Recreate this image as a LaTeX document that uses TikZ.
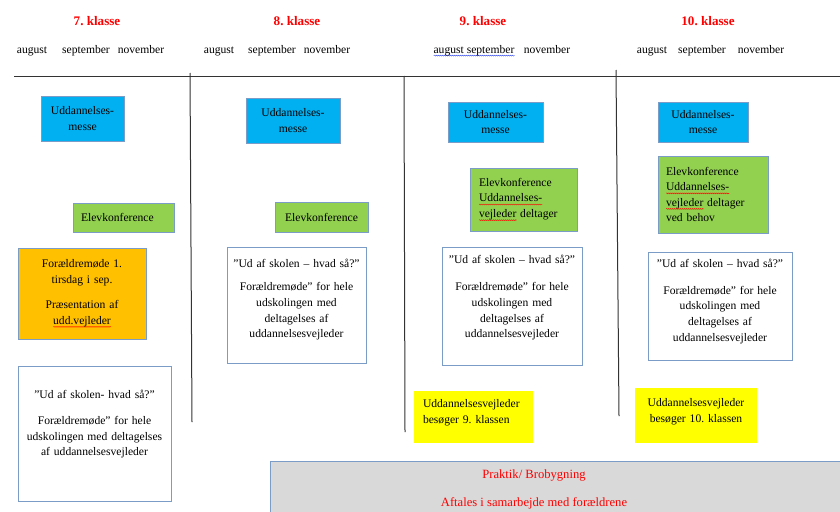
\documentclass[tikz,border=0pt]{standalone}
\usepackage{fontspec}
\setmainfont{Liberation Serif}
\usetikzlibrary{positioning}
\usetikzlibrary{decorations.pathmorphing}

\definecolor{fairblue}{HTML}{00B0F0}
\definecolor{confgreen}{HTML}{92D050}
\definecolor{meetorange}{HTML}{FFC000}
\definecolor{visityellow}{HTML}{FFFF00}
\definecolor{practgray}{HTML}{D9D9D9}
\definecolor{edge}{HTML}{7A9CC6}
\definecolor{spellblue}{HTML}{3B4FE0}

\frenchspacing
\newcommand\brod{\fontsize{11.6}{15.6}\selectfont}
\newcommand\luft[1]{\par\kern#1}
\newsavebox\typobox
\newcommand\typo[2]{\leavevmode\sbox\typobox{#2}\rlap{\tikz[baseline=0pt]\draw[draw=#1,fill=none,line width=0.4pt,
  decorate,decoration={snake,amplitude=0.5pt,segment length=2pt}] (0pt,-2.6pt) -- (\wd\typobox,-2.6pt);}\usebox\typobox}

\begin{document}
\begin{tikzpicture}
[x=1pt,y=-1pt,
  rule/.style={draw=black!80,line width=1pt},
  box/.style={draw=edge,line width=0.6pt,inner sep=0pt,font=\brod},
  fair/.style={box,fill=fairblue,align=center},
  conference/.style={box,fill=confgreen,align=left,inner xsep=8pt},
  meeting/.style={box,fill=meetorange,align=center},
  talk/.style={box,fill=white,align=center,inner xsep=2pt},
  visit/.style={fill=visityellow,inner sep=0pt,font=\brod},
  practice/.style={draw=edge,line width=0.6pt,fill=practgray},
  grade/.style={anchor=base,text=red,font=\fontsize{13.1}{15}\selectfont\bfseries},
  month/.style={anchor=base,font=\brod}]

\useasboundingbox (0,0) rectangle (840,511);

\node[grade] (g7) at (97,25.5) {7. klasse};
\node[grade] (g8) at (297,25.5) {8. klasse};
\node[grade] (g9) at (483,25.5) {9. klasse};
\node[grade] (g10) at (708,25.5) {10. klasse};

\node[month] (aug7) at (32,53) {august};
\node[month] (sep7) at (86,53) {september};
\node[month] (nov7) at (141,53) {november};
\node[month] (aug8) at (219,53) {august};
\node[month] (sep8) at (272,53) {september};
\node[month] (nov8) at (327,53) {november};
\node[month] (augsep9) at (474,53) {\typo{spellblue}{august september}};
\node[month] (nov9) at (547,53) {november};
\node[month] (aug10) at (652,53) {august};
\node[month] (sep10) at (702,53) {september};
\node[month] (nov10) at (761,53) {november};

\draw[rule] (14,76) -- (840,76);
\draw[rule] (190,73) -- (192,422);
\draw[rule] (404,76) -- (405,432);
\draw[rule] (616,70) -- (619,416);

\node[fair,minimum width=83pt,minimum height=45pt] (fair7) at (82.5,118.5) {Uddannelses-\\messe};
\node[conference,text width=85pt,minimum height=29pt] (conf7) at (123.5,217.5) {Elevkonference};
\node[meeting,text width=124pt,minimum width=128pt,minimum height=91pt] (meet7) at (82,293.5)
  {Forældremøde 1.\\tirsdag i sep.\\[10pt]Præsentation af\\\typo{red}{udd.vejleder}};
\node[talk,text width=149pt,minimum height=135pt] (talk7) at (94.5,433.5)
  {”Ud af skolen- hvad så?”\\[11pt]Forældremøde” for hele\\udskolingen med deltagelses\\af uddannelsesvejleder\luft{19pt}};

\node[fair,minimum width=94pt,minimum height=45pt] (fair8) at (293,120.5) {Uddannelses-\\messe};
\node[conference,align=center,inner xsep=0pt,minimum width=93pt,minimum height=30pt] (conf8) at (321.5,217) {Elevkonference};
\node[talk,text width=135pt,minimum height=116pt] (talk8) at (296.5,305)
  {”Ud af skolen – hvad så?”\\[8pt]Forældremøde” for hele\\udskolingen med\\deltagelses af\\uddannelsesvejleder\luft{11pt}};

\node[fair,minimum width=95pt,minimum height=40pt] (fair9) at (495.5,122) {Uddannelses-\\messe};
\node[conference,text width=89pt,inner xsep=9pt,minimum height=63pt] (conf9) at (523.5,199.5)
  {Elevkonference\\\typo{red}{Uddannelses-}\\\typo{red}{vejleder} deltager};
\node[talk,text width=136pt,minimum height=118pt] (talk9) at (512,306)
  {”Ud af skolen – hvad så?”\\[12pt]Forældremøde” for hele\\udskolingen med\\deltagelses af\\uddannelsesvejleder\luft{17pt}};
\node[visit,text width=101pt,inner xsep=9pt,align=left,minimum height=52pt] (visit9) at (473.5,417)
  {Uddannelsesvejleder\\besøger 9. klassen\luft{8pt}};

\node[fair,minimum width=90pt,minimum height=40pt] (fair10) at (703,122) {Uddannelses-\\messe};
\node[conference,text width=94pt,minimum height=77pt] (conf10) at (713,194.5)
  {Elevkonference\\\typo{red}{Uddannelses-}\\\typo{red}{vejleder} deltager\\ved behov};
\node[talk,text width=140pt,minimum height=108pt] (talk10) at (720,306)
  {”Ud af skolen – hvad så?”\\[11pt]Forældremøde” for hele\\udskolingen med\\deltagelses af\\uddannelsesvejleder\luft{9pt}};
\node[visit,text width=122pt,align=center,minimum height=55pt] (visit10) at (696,415.5)
  {Uddannelsesvejleder\\besøger 10. klassen\luft{8pt}};

\node[practice,anchor=north west,minimum width=580pt,minimum height=60pt] (practice) at (270,461) {};
\node[text=red,align=center,font=\fontsize{12.6}{16}\selectfont] (practicetext) at (534,489)
  {Praktik/ Brobygning\\[12pt]Aftales i samarbejde med forældrene};
\end{tikzpicture}
\end{document}
